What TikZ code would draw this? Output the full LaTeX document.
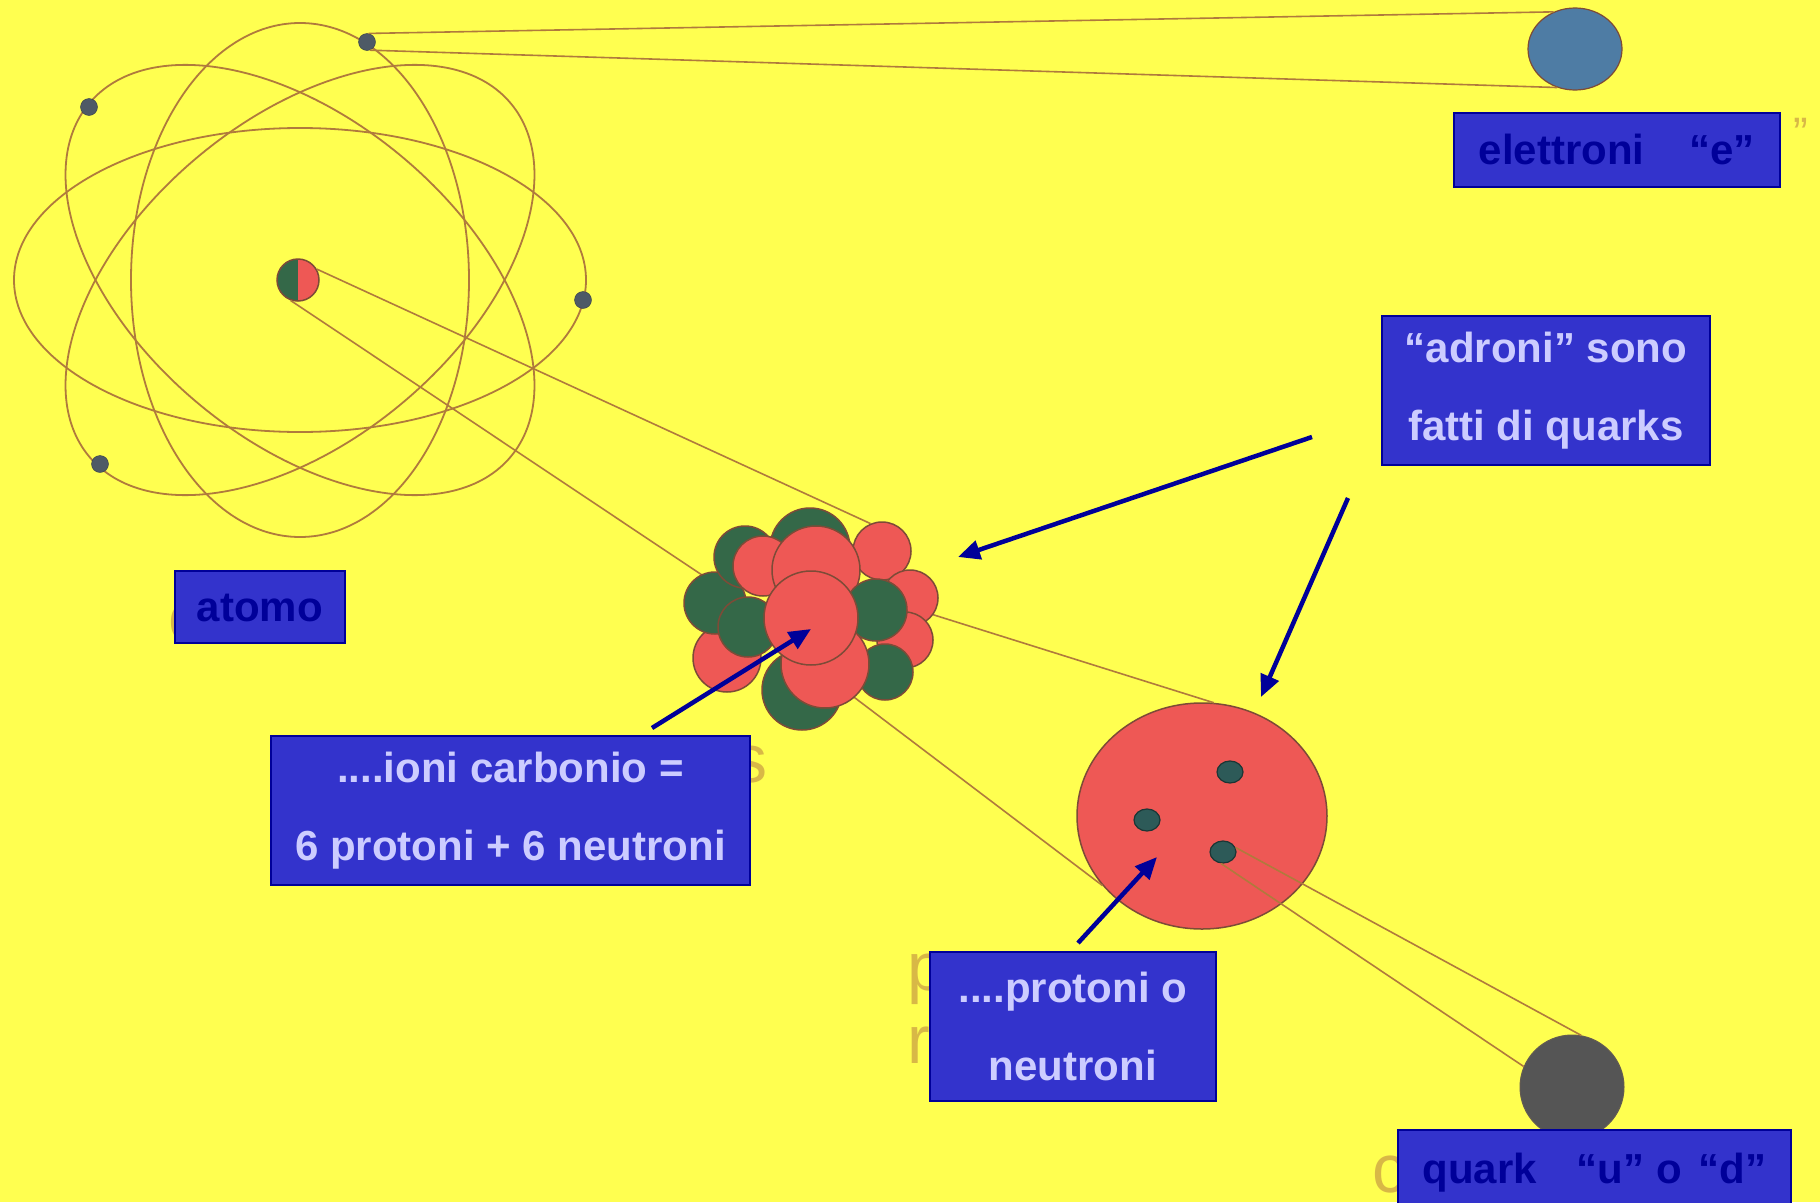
\documentclass[tikz,border=0pt]{standalone}
\usepackage{fontspec}
\setmainfont{Liberation Sans}
\usetikzlibrary{arrows.meta,shapes.geometric}

\definecolor{giallo}{RGB}{255,255,80}
\definecolor{orbita}{RGB}{176,122,60}
\definecolor{rosso}{RGB}{238,88,85}
\definecolor{verde}{RGB}{52,104,72}
\definecolor{bordo}{RGB}{125,75,55}
\definecolor{fondoblu}{RGB}{51,51,204}
\definecolor{blunotte}{RGB}{0,0,153}
\definecolor{lilla}{RGB}{204,204,255}
\definecolor{grigioe}{RGB}{78,90,102}
\definecolor{azzurro}{RGB}{78,124,164}
\definecolor{grigioq}{RGB}{85,85,85}
\definecolor{verdeq}{RGB}{45,90,88}
\definecolor{traccia}{RGB}{196,146,66}

\tikzset{
  giro/.style={draw=orbita, line width=1.8pt},
  raggio/.style={draw=orbita, line width=1.6pt},
  sfera/.style={draw=bordo, line width=1.5pt},
  elettrone/.style={circle, fill=grigioe, draw=grigioe!70!black, minimum size=17, inner sep=0},
  nucleo/.style={circle, minimum size=42, inner sep=0, draw=bordo, line width=1.5pt,
    path picture={\fill[verde] (path picture bounding box.south west) rectangle (path picture bounding box.north);
                  \fill[rosso] (path picture bounding box.south) rectangle (path picture bounding box.north east);}},
  quarkino/.style={ellipse, fill=verdeq, draw=verdeq!60!black, line width=1.2pt, minimum width=26, minimum height=22, inner sep=0},
  cartello/.style={fill=fondoblu, draw=blunotte, line width=1.8pt, inner sep=0, anchor=north west,
    font=\bfseries\fontsize{42}{78}\selectfont},
  scuro/.style={text=blunotte, text height=30pt, text depth=0pt},
  chiaro/.style={text=lilla, align=center},
  freccia/.style={draw=blunotte, line width=4.5pt, -{Triangle[length=22pt,width=19pt]}},
  fantasma/.style={text=traccia, opacity=0.65, font=\fontsize{68}{68}\selectfont, inner sep=0, anchor=base west}
}

\begin{document}
\begin{tikzpicture}[x=1pt,y=-1pt]
  \fill[giallo] (0,0) rectangle (1820,1202);
  \useasboundingbox (0,0) rectangle (1820,1202);

  % lettere del disegno rimaste sotto i cartelli
  \node[fantasma] (gp) at (907,990) {p};
  \node[fantasma] (gr) at (907,1063) {r};
  \node[fantasma] (gs) at (733,782) {s};
  \node[fantasma] (gc) at (168,640) {c};
  \node[fantasma] (gk) at (1372,1192) {c};
  \node[fantasma, font=\fontsize{44}{44}\selectfont] (gv) at (1793,148) {”};

  % atomo
  \coordinate (centro) at (300,280);
  \draw[giro] (centro) ellipse[x radius=286, y radius=152];
  \draw[giro] (centro) ellipse[x radius=169, y radius=257];
  \draw[giro, rotate around={40:(centro)}] (centro) ellipse[x radius=275, y radius=160];
  \draw[giro, rotate around={-40:(centro)}] (centro) ellipse[x radius=275, y radius=160];

  \node[nucleo] (nuc) at (298,280) {};
  \node[elettrone] (e1) at (367,42) {};
  \node[elettrone] (e2) at (89,107) {};
  \node[elettrone] (e3) at (583,300) {};
  \node[elettrone] (e4) at (100,464) {};

  \node[ellipse, fill=azzurro, draw=bordo, line width=1.2pt, minimum width=94, minimum height=82] (el) at (1575,49) {};
  \draw[raggio] (e1.80) -- (el.120);
  \draw[raggio] (e1.290) -- (el.245);

  % ione carbonio, protone, quark
  \node[circle, minimum size=220] (ione) at (812,617) {};
  \node[ellipse, fill=rosso, draw=bordo, line width=1.5pt, minimum width=250, minimum height=226] (pro) at (1202,816) {};
  \coordinate (dietro) at (805,660);

  \draw[raggio] (nuc.30) -- (ione.58);
  \draw[raggio] (nuc.250) -- (ione.160);
  \draw[raggio] (ione.3) -- (pro.84);
  \draw[raggio] (dietro) -- (pro.215);

  \foreach \x/\y/\r/\c in {810/548/40/verde, 882/551/29/rosso, 910/598/28/rosso, 905/640/28/rosso,
                           885/672/28/verde, 802/690/40/verde, 727/658/34/rosso, 715/603/31/verde,
                           745/557/31/verde, 763/566/30/rosso, 816/570/44/rosso, 748/627/30/verde,
                           876/610/31/verde, 825/664/44/rosso, 811/618/47/rosso}
    \draw[sfera, fill=\c] (\x,\y) circle[radius=\r];

  \node[quarkino] (q1) at (1230,772) {};
  \node[quarkino] (q2) at (1147,820) {};
  \node[quarkino] (q3) at (1223,852) {};
  \node[circle, fill=grigioq, draw=grigioq!85!orbita, line width=1pt, minimum size=104] (qk) at (1572,1087) {};
  \draw[raggio] (q3.20) -- (qk.80);
  \draw[raggio] (q3.260) -- (qk.157);

  % cartelli
  \node[cartello, scuro, minimum width=326, minimum height=74] (t-el) at (1453,112) {elettroni\hspace{45pt}“e”};
  \node[cartello, scuro, minimum width=170, minimum height=72] (t-at) at (174,570) {atomo};
  \node[cartello, chiaro, minimum width=328, minimum height=149] (t-ad) at (1381,315) {“adroni” sono\\fatti di quarks};
  \node[cartello, chiaro, minimum width=479, minimum height=149] (t-io) at (270,735) {....ioni carbonio =\\6 protoni + 6 neutroni};
  \node[cartello, chiaro, minimum width=286, minimum height=149] (t-pr) at (929,951) {....protoni o\\neutroni};
  \node[cartello, scuro, minimum width=393, minimum height=78] (t-qk) at (1397,1129) {quark\hspace{40pt}“u” o\hspace{17pt}“d”};

  % frecce
  \coordinate (da1) at (1312,437); \coordinate (a1) at (958,557);
  \coordinate (da2) at (1348,498); \coordinate (a2) at (1261,697);
  \coordinate (da3) at (652,728);  \coordinate (a3) at (811,629);
  \coordinate (da4) at (1078,943); \coordinate (a4) at (1157,857);
  \draw[freccia] (da1) -- (a1);
  \draw[freccia] (da2) -- (a2);
  \draw[freccia] (da3) -- (a3);
  \draw[freccia] (da4) -- (a4);
\end{tikzpicture}
\end{document}
